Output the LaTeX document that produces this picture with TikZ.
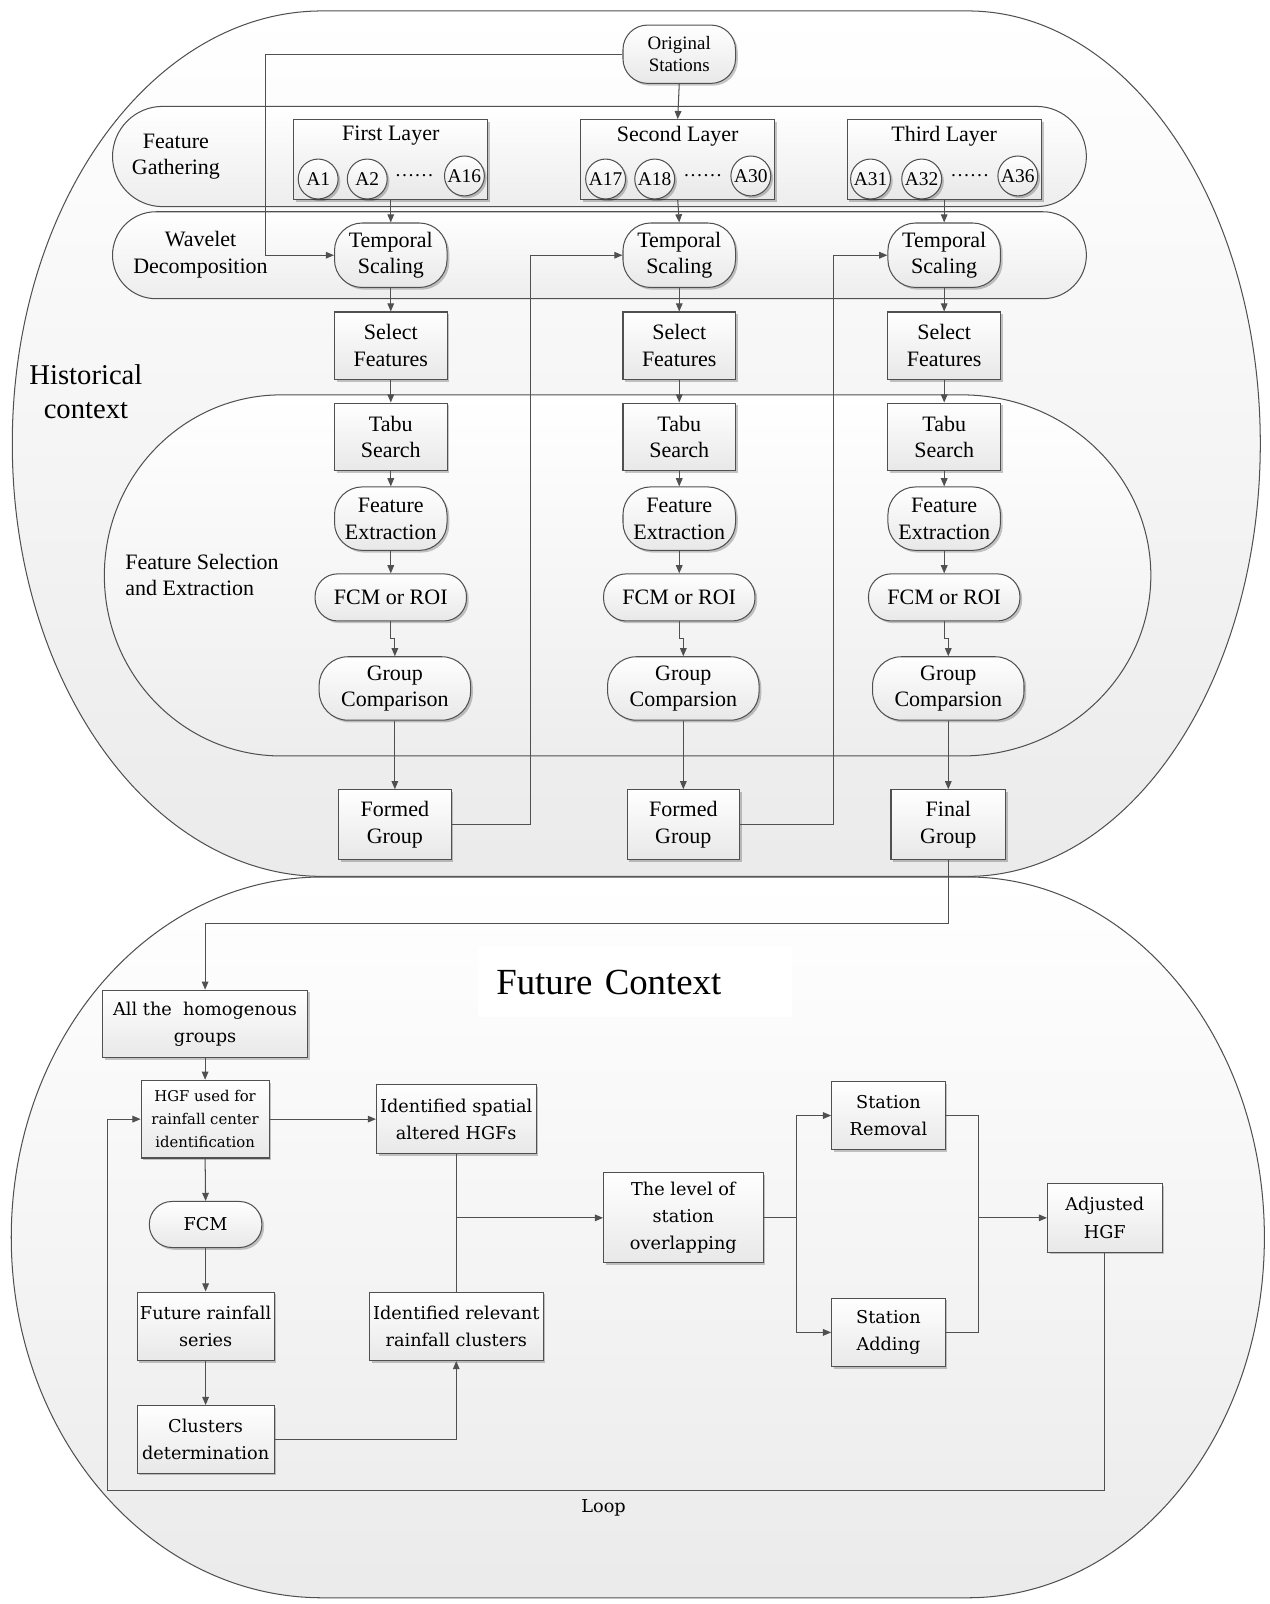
\documentclass[tikz,border=0pt]{standalone}
\usepackage{fontspec}
\setmainfont{Liberation Serif}
\newfontfamily\dvserif{DejaVu Serif}
\usetikzlibrary{arrows.meta,shadows,calc}

\newcommand\fTop{\fontsize{21.5pt}{26pt}\selectfont}
\newcommand\fOrig{\fontsize{18.5pt}{22pt}\selectfont}
\newcommand\fCirc{\fontsize{19pt}{22pt}\selectfont}
\newcommand\fBig{\fontsize{28pt}{33pt}\selectfont}
\newcommand\fFut{\fontsize{36pt}{40pt}\selectfont}
\newcommand\fBot{\dvserif\fontsize{17.3pt}{26.5pt}\selectfont}
\newcommand\fHgf{\dvserif\fontsize{14.5pt}{22.5pt}\selectfont}

\definecolor{edge}{HTML}{505050}

\tikzset{
  boxbase/.style={draw=edge, line width=1pt, top color=white, bottom color=black!9,
    drop shadow={shadow xshift=2.2pt, shadow yshift=-2.2pt, opacity=0.22, fill=black},
    inner sep=0pt, align=center},
  rbox/.style={boxbase, rectangle},
  pill/.style={boxbase, rectangle, rounded corners=#1},
  pill/.default=24pt,
  circ/.style={boxbase, circle, minimum size=39pt, font=\fCirc},
  band/.style={draw=edge, line width=1pt, top color=white, bottom color=black!7, inner sep=0pt},
  outer/.style={draw=edge, line width=1pt, top color=white, bottom color=black!8},
  conn/.style={draw=edge, line width=1pt},
  arr/.style={conn, -{Triangle[length=8pt,width=6.5pt]}}
}

\begin{document}
\begin{tikzpicture}[x=1pt,y=-1pt]
\fill[white] (0,0) rectangle (1241,1568);
\useasboundingbox (0,0) rectangle (1241,1568);

% ---------- containers ----------
\path[outer] (315,10.7) -- (946,10.7)
  arc[start angle=-90,end angle=90,x radius=286,y radius=423] -- (315,856.7)
  arc[start angle=90,end angle=270,x radius=303,y radius=423] -- cycle;
\path[outer] (315,857.3) -- (946,857.3)
  arc[start angle=-90,end angle=90,x radius=290,y radius=352.3] -- (315,1561.9)
  arc[start angle=90,end angle=270,x radius=304,y radius=352.3] -- cycle;
\path[band] (275,386) -- (940,386)
  arc[start angle=-90,end angle=90,x radius=185,y radius=176.5] -- (275,739)
  arc[start angle=90,end angle=270,x radius=173,y radius=176.5] -- cycle;

\node[band, minimum width=952pt, minimum height=98pt, rounded corners=49pt] (fgb) at (586,153) {};
\node[band, minimum width=952pt, minimum height=85pt, rounded corners=42.5pt] (wdb) at (586,249.5) {};

% ---------- section labels ----------
\node[font=\fBig, align=center] (hist) at (84,383) {Historical\\context};
\node[font=\fTop, align=center] (fglbl) at (172,153) {Feature\\Gathering};
\node[font=\fTop, align=center] (wdlbl) at (196,249) {Wavelet\\Decomposition};
\node[font=\fTop, align=left, anchor=west] (fslbl) at (119,562) {Feature Selection\\and Extraction};
\node[fill=white, anchor=west, minimum width=307pt, minimum height=68pt, text width=271pt,
      inner xsep=18pt, align=left, font=\fFut] (fut) at (467,960) {Future Context};

% ---------- historical context ----------
\node[pill, minimum width=110pt, minimum height=57pt, font=\fOrig] (os) at (664,53) {Original\\Stations};

\node[rbox, minimum width=190pt, minimum height=78pt] (L1) at (382,156) {};
\node[rbox, minimum width=190pt, minimum height=78pt] (L2) at (662.5,156) {};
\node[rbox, minimum width=190pt, minimum height=78pt] (L3) at (923,156) {};
\node[font=\fTop] (L1t) at (382,133) {First Layer};
\node[font=\fTop] (L2t) at (662.5,133) {Second Layer};
\node[font=\fTop] (L3t) at (923,133) {Third Layer};

\node[circ] (a1) at (311,175) {A1};
\node[circ] (a2) at (359,175) {A2};
\node[font=\fCirc, anchor=base] (d1) at (405,173) {……};
\node[circ] (a16) at (454,172) {A16};
\node[circ] (a17) at (592,175) {A17};
\node[circ] (a18) at (640,175) {A18};
\node[font=\fCirc, anchor=base] (d2) at (687,173) {……};
\node[circ] (a30) at (734,172) {A30};
\node[circ] (a31) at (851,175) {A31};
\node[circ] (a32) at (901,175) {A32};
\node[font=\fCirc, anchor=base] (d3) at (948,173) {……};
\node[circ] (a36) at (995,172) {A36};

\foreach \i/\c in {1/382,2/664,3/923}{
  \node[pill=27pt, minimum width=110pt, minimum height=63pt, font=\fTop] (ts\i) at (\c,249.5) {Temporal\\Scaling};
  \node[rbox, minimum width=110pt, minimum height=66pt, font=\fTop] (sf\i) at (\c,338) {Select\\Features};
  \node[rbox, minimum width=110pt, minimum height=66pt, font=\fTop] (tb\i) at (\c,427) {Tabu\\Search};
  \node[pill=27pt, minimum width=110pt, minimum height=62pt, font=\fTop] (fe\i) at (\c,507) {Feature\\Extraction};
  \node[pill=22pt, minimum width=148pt, minimum height=46pt, font=\fTop] (fc\i) at (\c,584) {FCM or ROI};
}
\node[pill=28pt, minimum width=148pt, minimum height=62pt, font=\fTop] (gc1) at (386,673) {Group\\Comparison};
\node[pill=28pt, minimum width=148pt, minimum height=62pt, font=\fTop] (gc2) at (668,673) {Group\\Comparsion};
\node[pill=28pt, minimum width=148pt, minimum height=62pt, font=\fTop] (gc3) at (927,673) {Group\\Comparsion};
\node[rbox, minimum width=110pt, minimum height=68pt, font=\fTop] (fg1) at (386,806) {Formed\\Group};
\node[rbox, minimum width=110pt, minimum height=68pt, font=\fTop] (fg2) at (668,806) {Formed\\Group};
\node[rbox, minimum width=112pt, minimum height=68pt, font=\fTop] (fg3) at (927,806) {Final\\Group};

% ---------- future context ----------
\node[rbox, minimum width=201pt, minimum height=66pt, font=\fBot] (all) at (200.5,1001) {All the~ homogenous\\groups};
\node[rbox, minimum width=125pt, minimum height=76pt, font=\fHgf] (hgf) at (200.5,1094) {HGF used for\\rainfall center\\identification};
\node[pill=22pt, minimum width=110pt, minimum height=45pt, font=\fBot] (fcmb) at (201,1197) {FCM};
\node[rbox, minimum width=134pt, minimum height=67pt, font=\fBot] (frs) at (201,1296.5) {Future rainfall\\series};
\node[rbox, minimum width=134pt, minimum height=66pt, font=\fBot] (cd) at (201,1407) {Clusters\\determination};
\node[rbox, minimum width=156pt, minimum height=68pt, font=\fBot] (isa) at (446,1094) {Identified spatial\\altered HGFs};
\node[rbox, minimum width=170pt, minimum height=67pt, font=\fBot] (irc) at (446,1296.5) {Identified relevant\\rainfall clusters};
\node[rbox, minimum width=156pt, minimum height=88pt, font=\fBot] (lvl) at (668,1190.5) {The level of\\station\\overlapping};
\node[rbox, minimum width=111pt, minimum height=67pt, font=\fBot] (sr) at (868.5,1090.5) {Station\\Removal};
\node[rbox, minimum width=111pt, minimum height=67pt, font=\fBot] (sa) at (868.5,1302.5) {Station\\Adding};
\node[rbox, minimum width=112pt, minimum height=67pt, font=\fBot] (adj) at (1080,1190.5) {Adjusted\\HGF};
\node[font=\fBot] (looplbl) at (590,1474) {Loop};

% ---------- connectors: historical context ----------
\coordinate (xa) at (260,0);
\coordinate (xb) at (519,0);
\coordinate (xc) at (815,0);
\draw[arr] (os.west) -- (os.west -| xa) |- (ts1.west);
\draw[arr] (os.south) -- (L2.north);
\draw[arr] (L1.south) -- (ts1.north);
\draw[arr] (L2.south) -- (ts2.north);
\draw[arr] (L3.south) -- (ts3.north);
\foreach \i in {1,2,3}{
  \draw[arr] (ts\i.south) -- (sf\i.north);
  \draw[arr] (sf\i.south) -- (tb\i.north);
  \draw[arr] (tb\i.south) -- (fe\i.north);
  \draw[arr] (fe\i.south) -- (fc\i.north);
  \draw[arr] (fc\i.south) -- ++(0,17) -| (gc\i.north);
  \draw[arr] (gc\i.south) -- (fg\i.north);
}
\draw[arr] (fg1.east) -- (fg1.east -| xb) |- (ts2.west);
\draw[arr] (fg2.east) -- (fg2.east -| xc) |- (ts3.west);
\draw[arr] (fg3.south) -- ++(0,62) -| (all.north);

% ---------- connectors: future context ----------
\draw[arr] (all.south) -- (hgf.north);
\draw[arr] (hgf.south) -- (fcmb.north);
\draw[arr] (fcmb.south) -- (frs.north);
\draw[arr] (frs.south) -- (cd.north);
\draw[arr] (cd.east) -| (irc.south);
\draw[arr] (hgf.east) -- (isa.west);
\draw[conn] (isa.south) -- (irc.north);
\coordinate (br) at (446,1190.5);
\draw[arr] (br) -- (lvl.west);
\coordinate (sp) at (779,1190.5);
\draw[conn] (lvl.east) -- (sp);
\draw[arr] (sp) |- (sr.west);
\draw[arr] (sp) |- (sa.west);
\coordinate (jn) at (957,1190.5);
\draw[conn] (sr.east) -| (jn);
\draw[conn] (sa.east) -| (jn);
\draw[arr] (jn) -- (adj.west);
\coordinate (lp) at (105,1457);
\draw[arr] (adj.south) |- (lp) |- (hgf.west);
\end{tikzpicture}
\end{document}
